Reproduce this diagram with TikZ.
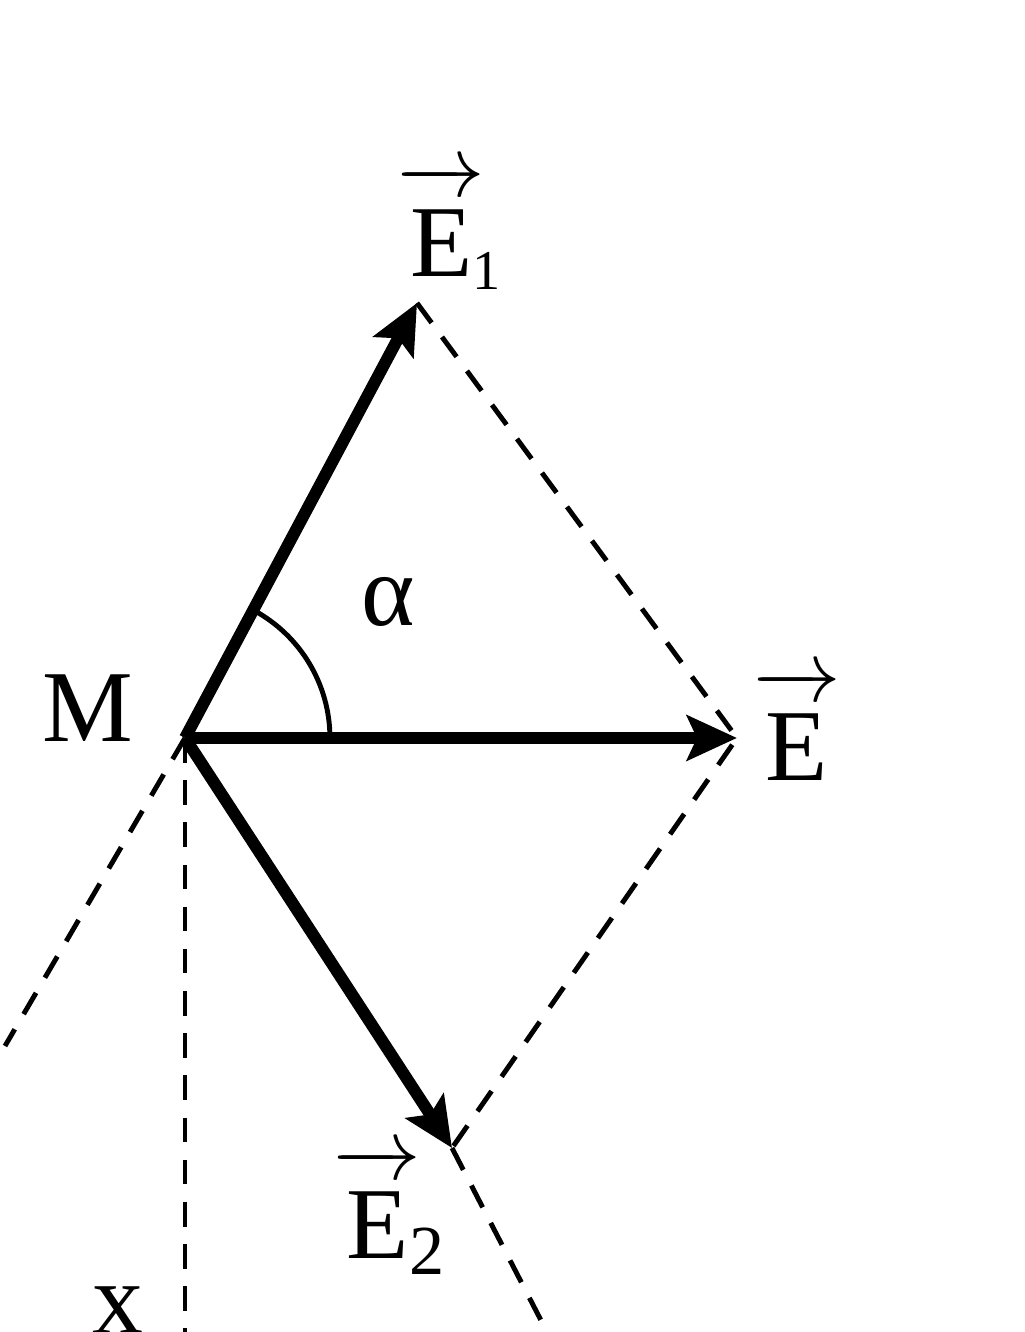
\documentclass[tikz,border=0pt]{standalone}
\usepackage{amsmath}
\usepackage{fontspec}
\setmainfont{Liberation Serif}
\usepackage{tikz}
\usetikzlibrary{arrows,arrows.meta,positioning,calc}
\newcommand{\vecE}{\overrightarrow{\textrm{E}\rule{0pt}{0.78em}}}

\begin{document}
\begin{tikzpicture}[x = 1cm, y = 1cm, every node/.style={anchor = center, font = \fontsize{29}{34}\selectfont},
  vecline/.style={line width = 3.4pt, -{Stealth[length = 5mm, width = 4.5mm, inset = 1mm]}},
  dashline/.style={line width = 1.4pt, dash pattern = on 7pt off 5pt}]
\useasboundingbox (0,0) rectangle (10.24,13.32);
\coordinate (M) at (1.85,5.94);
\coordinate (e1) at (4.17,10.29);
\coordinate (e) at (7.37,5.94);
\coordinate (e2) at (4.52,1.84);
\coordinate (q1) at (0.05,2.86);
\coordinate (q2) at (5.47,0);
\coordinate (xb) at (1.85,0);
% labels
\node (Ml) at (0.88,6.24) {M};
\node (E1l) at (4.50,11.05) {$\vecE_{\!\textrm{\fontsize{16}{18}\selectfont 1}}$};
\node (El) at (7.97,6.07) {$\vecE$};
\node (E2l) at (3.90,1.21) {$\vecE_{\!\textrm{\fontsize{20}{22}\selectfont 2}}$};
\node (al) at (3.88,7.30) {α};
\node (xl) at (1.18,0.22) {x};
% dashed lines
\draw[dashline] (e1) -- (e) -- (e2);
\draw[dashline] (e2) -- (q2);
\draw[dashline] (M) -- (q1);
\draw[dashline] (M) -- (xb);
% angle
\draw[line width = 1.4pt] ($(M)!1.45cm!(e1)$) arc[start angle = 61.9, end angle = 0, radius = 1.45];
% vectors
\draw[vecline] (M) -- (e1);
\draw[vecline] (M) -- (e);
\draw[vecline] (M) -- (e2);
\end{tikzpicture}
\end{document}
